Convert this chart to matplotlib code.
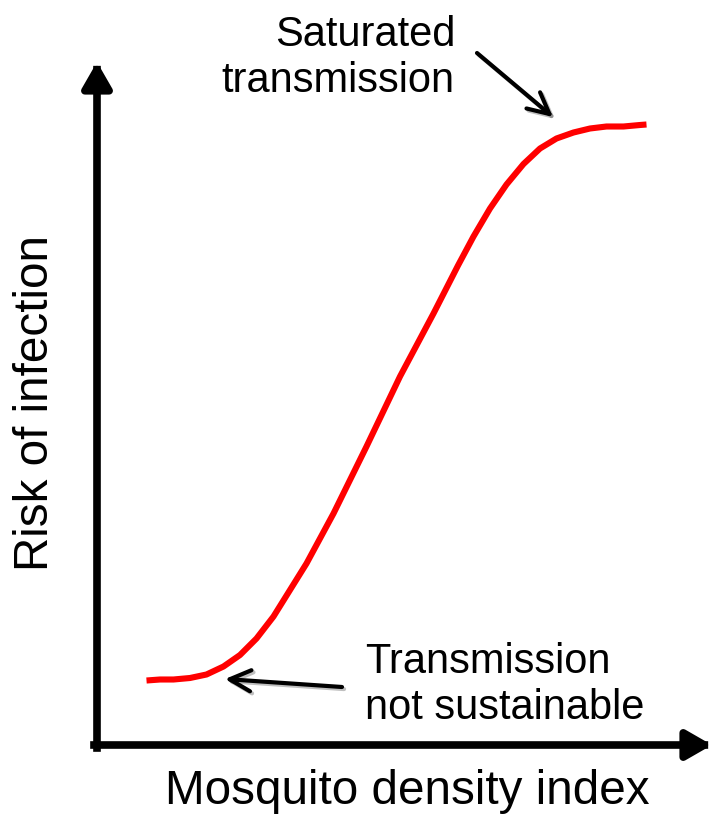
#!/usr/bin/env python3
"""Schematic: risk of infection against mosquito density index (sigmoid)."""

import matplotlib

matplotlib.use("Agg")
import matplotlib.patheffects as pe
import matplotlib.pyplot as plt

plt.rcParams["font.family"] = ["Liberation Sans", "DejaVu Sans"]

# curve (arbitrary index units, origin at the axes corner)
density_index = [9.9, 12.6, 15.3, 18.6, 21.9, 25.3, 28.6, 31.9, 35.3, 38.6,
                 41.9, 47.3, 53.9, 60.6, 67.3, 72.2, 75.3, 78.6, 81.9, 85.3,
                 88.6, 91.9, 95.3, 98.6, 101.9, 105.3, 108.6, 109.9]
infection_risk = [12.9, 13.1, 13.1, 13.4, 14.1, 15.7, 18.0, 21.3, 25.7, 31.0,
                  36.3, 46.3, 59.7, 73.7, 86.3, 95.9, 101.7, 107.3, 112.1, 116.2,
                  119.3, 121.3, 122.5, 123.3, 123.7, 123.7, 124.0, 124.1]

x_label = "Mosquito density index"
y_label = "Risk of infection"
top_note = "Saturated\ntransmission"
bottom_note = "Transmission\nnot sustainable"

x_axis_end = 123.0
y_axis_end = 136.6

fig = plt.figure(figsize=(7.14, 8.14), dpi=100)
ax = fig.add_axes([0, 0, 1, 1])
ax.set_xlim(-19.4, 123.4)
ax.set_ylim(-13.8, 149.0)
ax.axis("off")

# axes drawn as thick arrows
axis_style = dict(arrowstyle="-|>,head_length=0.4,head_width=0.23", color="black",
                  lw=5.5, mutation_scale=38, shrinkA=0, shrinkB=0, capstyle="projecting")
ax.annotate("", xy=(x_axis_end, 0), xytext=(-0.6, 0), arrowprops=axis_style)
ax.annotate("", xy=(0, y_axis_end), xytext=(0, -0.6), arrowprops=axis_style)

ax.plot(density_index, infection_risk, color="#ff0000", lw=4.4,
        solid_capstyle="butt", solid_joinstyle="round")

note_style = dict(arrowstyle="->,head_length=0.4,head_width=0.2", color="black",
                  lw=3.0, mutation_scale=38, shrinkA=0, shrinkB=0,
                  path_effects=[pe.SimpleLineShadow(offset=(1.5, -1.5), alpha=0.25),
                                pe.Normal()])
ax.annotate("", xy=(91.2, 125.6), xytext=(76.0, 138.4), arrowprops=note_style)
ax.annotate("", xy=(25.6, 13.2), xytext=(49.0, 11.6), arrowprops=note_style)

# va="baseline" lines up the last line of a multi-line text
ax.text(71.6, 130.6, top_note, ha="right", va="baseline", fontsize=30, linespacing=1.2)
ax.text(53.6, 5.2, bottom_note, ha="left", va="baseline", fontsize=30, linespacing=1.2)

ax.text(62.0, -11.9, x_label, ha="center", va="baseline", fontsize=34.3)
ax.text(-12.2, 68.4, y_label, ha="center", va="center", rotation=90, fontsize=34.3)

fig.savefig("out.png", dpi=100)
plt.close(fig)
